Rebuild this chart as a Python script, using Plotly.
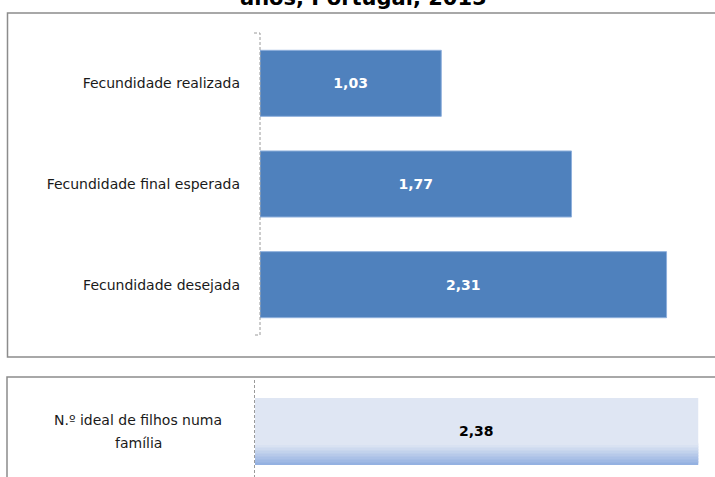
import plotly.graph_objects as go

# Data
fert_labels = ["Fecundidade realizada", "Fecundidade final esperada", "Fecundidade desejada"]
fert_values = [1.03, 1.77, 2.31]
ideal_labels = ["N.º ideal de filhos numa<br>família"]
ideal_values = [2.38]
title_text = "anos, Portugal, 2015"

W, H = 715, 477
FONT = "DejaVu Sans"


def px_x(p):
    return p / W


def px_y(p):
    return 1 - p / H


def mix(c1, c2, t):
    a = [int(c1[i:i + 2], 16) for i in (1, 3, 5)]
    b = [int(c2[i:i + 2], 16) for i in (1, 3, 5)]
    return "rgb(%d,%d,%d)" % tuple(round(a[k] + (b[k] - a[k]) * t) for k in range(3))


fig = go.Figure()

# top panel: realised / expected / desired fertility
fig.add_trace(go.Bar(
    x=fert_values, y=fert_labels, orientation="h",
    marker=dict(color="#4f81bd", line=dict(color="#8fb0dc", width=1)),
    texttemplate="%{x:.2f}", textposition="inside", insidetextanchor="middle",
    textfont=dict(color="white", size=14, family=FONT, weight="bold"),
    xaxis="x", yaxis="y", hoverinfo="skip",
))

# bottom panel: ideal number of children (light bar with gradient at the bottom)
BAR_W2 = 66 / 96
GRAD = 21 / 96
N_STRIPES = 14
fig.add_trace(go.Bar(
    x=ideal_values, y=ideal_labels, orientation="h", width=BAR_W2,
    marker=dict(color="#dfe6f3", line=dict(width=0)),
    xaxis="x2", yaxis="y2", hoverinfo="skip",
))
step = GRAD / N_STRIPES
for i in range(N_STRIPES):
    t = i / (N_STRIPES - 1)
    fig.add_trace(go.Bar(
        x=ideal_values, y=ideal_labels, orientation="h",
        width=step * 1.15, offset=-BAR_W2 / 2 + i * step,
        marker=dict(color=mix("#94b1e1", "#dfe6f3", t), line=dict(width=0)),
        xaxis="x2", yaxis="y2", hoverinfo="skip",
    ))

for lab, v in zip(ideal_labels, ideal_values):
    fig.add_annotation(
        x=v / 2, y=lab, xref="x2", yref="y2",
        text=f"{v:.2f}".replace(".", ","), showarrow=False,
        font=dict(size=14, color="black", family=FONT, weight="bold"),
    )
    # two-line category label, wider line spacing than plotly's default
    lines = lab.split("<br>")
    for k, line in enumerate(lines):
        fig.add_annotation(
            x=px_x(138), y=lab, xref="paper", yref="y2", xanchor="center",
            yshift=(len(lines) - 1) * 11.5 - k * 23,
            text=line, showarrow=False,
            font=dict(size=14, color="#1a1a1a", family=FONT),
        )

# title (only the last line is visible in the frame)
fig.add_annotation(
    x=px_x(363), y=px_y(12), xref="paper", yref="paper",
    xanchor="center", yanchor="bottom", showarrow=False,
    text=title_text, font=dict(size=21, color="black", family=FONT, weight="bold"),
)

gray = "#8c8c8c"
dash_c = "#9a9a9a"
shapes = [
    dict(type="rect", xref="paper", yref="paper",
         x0=px_x(7.5), x1=px_x(720), y0=px_y(357), y1=px_y(13),
         line=dict(color=gray, width=1.5), fillcolor="rgba(0,0,0,0)", layer="below"),
    dict(type="rect", xref="paper", yref="paper",
         x0=px_x(7), x1=px_x(720), y0=px_y(485), y1=px_y(377),
         line=dict(color=gray, width=1.5), fillcolor="rgba(0,0,0,0)", layer="below"),
    dict(type="path", xref="paper", yref="paper",
         path=f"M {px_x(254)},{px_y(33)} L {px_x(260)},{px_y(33)} L {px_x(260)},{px_y(335)} L {px_x(254)},{px_y(335)}",
         line=dict(color=dash_c, width=1, dash="3px,2px")),
    dict(type="line", xref="paper", yref="paper",
         x0=px_x(254.5), x1=px_x(254.5), y0=px_y(380), y1=px_y(477),
         line=dict(color=dash_c, width=1, dash="3px,2px")),
]

fig.update_layout(
    width=W, height=H,
    margin=dict(l=0, r=0, t=0, b=0),
    paper_bgcolor="white", plot_bgcolor="white",
    separators=",.",
    barmode="overlay",
    bargap=0.344,
    showlegend=False,
    font=dict(family=FONT, size=14, color="#1a1a1a"),
    shapes=shapes,
    xaxis=dict(domain=[px_x(260), px_x(700)], range=[0, 2.5], anchor="y",
               visible=False, fixedrange=True),
    yaxis=dict(domain=[px_y(335), px_y(33)], anchor="x",
               categoryorder="array", categoryarray=fert_labels, autorange="reversed",
               showgrid=False, zeroline=False, showline=False, ticks="",
               ticklabelstandoff=19, tickfont=dict(size=14, color="#1a1a1a", family=FONT)),
    xaxis2=dict(domain=[px_x(255), 1], range=[0, 2.47], anchor="y2",
                visible=False, fixedrange=True),
    yaxis2=dict(domain=[0, px_y(381)], anchor="x2", range=[-0.479, 0.521],
                showgrid=False, zeroline=False, showline=False, ticks="",
                showticklabels=False),
)

fig.write_html("out.html", config={"displayModeBar": False},
               post_script="document.body.style.margin='0';")
